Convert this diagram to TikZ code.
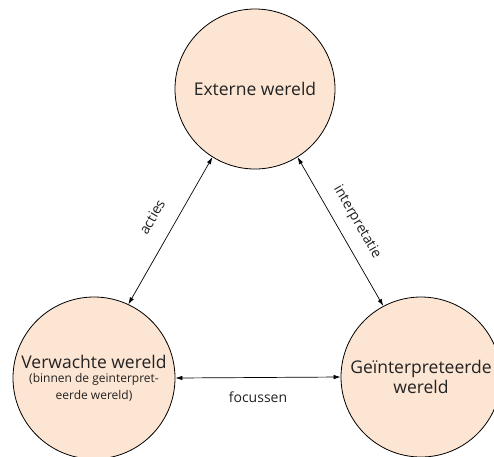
\documentclass[tikz,border=0pt]{standalone}
\usepackage{fontspec}
\setmainfont{Open Sans}
\usetikzlibrary{arrows.meta}
\definecolor{peach}{RGB}{253,229,211}
\definecolor{ink}{RGB}{34,34,34}
\begin{document}
\begin{tikzpicture}[x=1pt,y=-1pt,
  world/.style={circle,draw=black,line width=0.8pt,fill=peach,inner sep=0pt,
    text=ink,align=center,font=\fontsize{17.5}{21}\selectfont},
  link/.style={<->,>={Latex[length=7pt,width=4.5pt]},line width=0.7pt},
  lbl/.style={text=ink,font=\fontsize{14}{16}\selectfont,inner sep=0pt}]
\useasboundingbox (0,0) rectangle (494,456);
\begin{scope}
\clip (0,0) rectangle (494,456);
\node[world,minimum size=160pt] (ext) at (255,89) {Externe wereld};
\node[world,minimum size=162pt] (exp) at (94,378)
  {\raisebox{-4pt}{Verwachte wereld}\\[-3pt]
   {\fontsize{12}{14}\selectfont (binnen de geinterpret-}\\[-4pt]
   {\fontsize{12}{14}\selectfont eerde wereld)}};
\node[world,minimum size=160pt] (int) at (421,377) {Geïnterpreteerde\\[-1pt]wereld};
\end{scope}
\draw[link] (exp.65) -- (ext.238);
\draw[link] (ext.302) -- (int.118);
\draw[link] (exp.0) -- (int.180);
\node[lbl,rotate=60] (l1) at (152,217) {acties};
\node[lbl,rotate=-60] (l2) at (357,222) {interpretatie};
\node[lbl] (l3) at (258,397) {focussen};
\end{tikzpicture}
\end{document}
